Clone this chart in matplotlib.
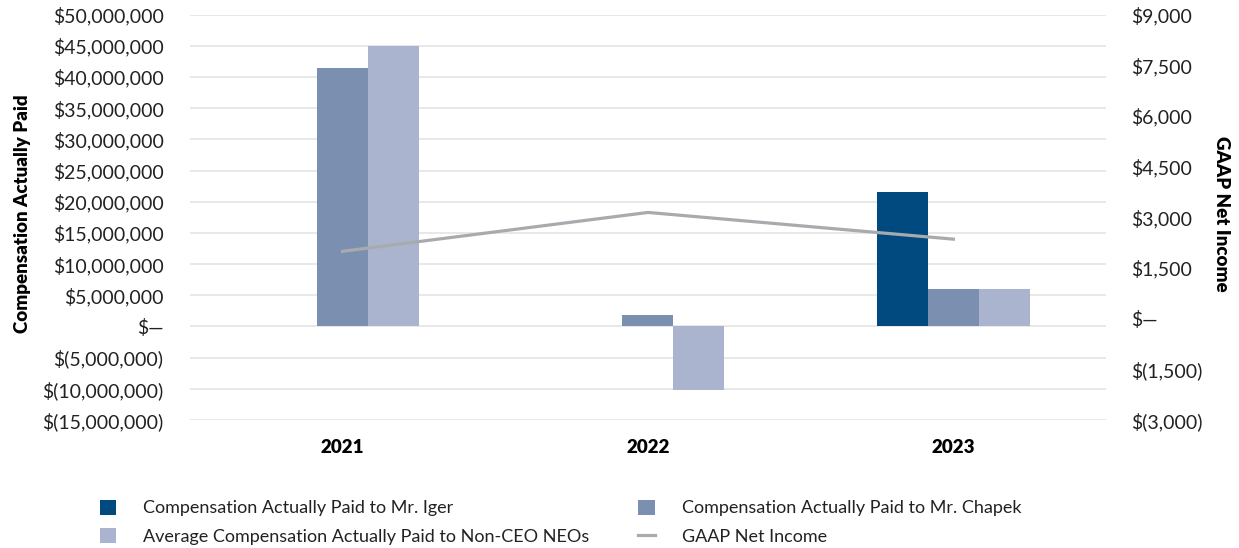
import matplotlib
matplotlib.use('Agg')
import matplotlib.pyplot as plt
import numpy as np

years = ['2021', '2022', '2023']
iger = [np.nan, np.nan, 21.6e6]
chapek = [41.4e6, 1.9e6, 5.95e6]
neo_avg = [45.0e6, -10.25e6, 5.95e6]
net_income = [1995, 3145, 2354]

left_ticks = np.arange(-15e6, 50e6 + 1, 5e6)
right_ticks = np.arange(-3000, 9000 + 1, 1500)

def fmt_money(v):
    if v == 0:
        return '$\u2014'
    if v < 0:
        return '$({:,.0f})'.format(-v)
    return '${:,.0f}'.format(v)

plt.rcParams['font.family'] = ['Lato', 'DejaVu Sans']

fig = plt.figure(figsize=(12.39, 5.48), dpi=100)
ax = fig.add_axes([0.1533, 0.2336, 0.7394, 0.7396])
ax2 = ax.twinx()

x = np.arange(len(years))
w = 0.167
ax.bar(x - w, iger, w, color='#004a7f', label='Compensation Actually Paid to Mr. Iger', zorder=3)
ax.bar(x, chapek, w, color='#7b8fb0', label='Compensation Actually Paid to Mr. Chapek', zorder=3)
ax.bar(x + w, neo_avg, w, color='#aab4cf', label='Average Compensation Actually Paid to Non-CEO NEOs', zorder=3)
ax2.plot(x, net_income, color='#a9aaae', lw=2.3, label='GAAP Net Income')

ax.set_xlim(-0.5, 2.5)
ax.set_ylim(-15e6, 50e6)
ax2.set_ylim(-3000, 9000)
ax.set_yticks(left_ticks)
ax.set_yticklabels([fmt_money(v) for v in left_ticks])
ax2.set_yticks(right_ticks)
ax2.set_yticklabels([fmt_money(v) for v in right_ticks])
ax.set_xticks(x)
ax.set_xticklabels(years, fontweight='heavy', fontsize=13.5)

ax.grid(axis='y', color='#e4e4e4', lw=1.2, zorder=0)
ax.set_axisbelow(True)
for a in (ax, ax2):
    for s in a.spines.values():
        s.set_visible(False)
ax.tick_params(axis='y', length=0, pad=19, labelsize=14, labelcolor='#222222')
ax.tick_params(axis='x', length=0, pad=14)
ax2.tick_params(axis='y', length=0, pad=18, labelsize=14, labelcolor='#222222')

fig.text(0.018, 0.61, 'Compensation Actually Paid', rotation=90, ha='center', va='center',
         fontsize=13.5, fontweight='heavy')
fig.text(0.986, 0.61, 'GAAP Net Income', rotation=-90, ha='center', va='center',
         fontsize=13.5, fontweight='heavy')

h1, l1 = ax.get_legend_handles_labels()
h2, l2 = ax2.get_legend_handles_labels()
handles = [h1[0], h1[2], h1[1], h2[0]]
labels = [l1[0], l1[2], l1[1], l2[0]]
fig.legend(handles, labels, ncol=2, loc='upper left', bbox_to_anchor=(0.0807, 0.088),
           frameon=False, fontsize=13, handlelength=0.9, handleheight=0.9,
           handletextpad=1.5, columnspacing=2.7, labelspacing=0.65, labelcolor='#222222',
           borderpad=0, borderaxespad=0)

fig.savefig('out.png', dpi=100)
